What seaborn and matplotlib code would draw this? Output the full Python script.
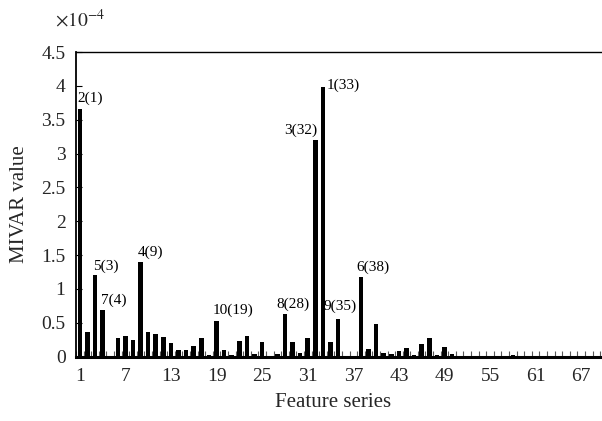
import numpy as np
import pandas as pd
import matplotlib
matplotlib.use("Agg")
import matplotlib.pyplot as plt
import seaborn as sns

# ---- data (values in units of 1e-4) ----
series = list(range(1, 70))
mivar = [3.66, 0.355, 1.20, 0.69, 0.01, 0.28, 0.30, 0.24, 1.39, 0.355,
         0.33, 0.285, 0.20, 0.10, 0.09, 0.15, 0.27, 0.015, 0.53, 0.10,
         0.015, 0.23, 0.305, 0.03, 0.22, 0.01, 0.03, 0.635, 0.22, 0.05,
         0.275, 3.20, 3.98, 0.21, 0.56, 0.0, 0.01, 1.17, 0.11, 0.48,
         0.05, 0.03, 0.08, 0.12, 0.02, 0.18, 0.28, 0.02, 0.14, 0.035,
         0.0, 0.0, 0.0, 0.0, 0.0, 0.0, 0.0, 0.02, 0.0, 0.0,
         0.0, 0.0, 0.0, 0.0, 0.0, 0.0, 0.0, 0.0, 0.0]
ann_labels = ["2(1)", "5(3)", "7(4)", "4(9)", "10(19)", "8(28)", "3(32)", "1(33)", "9(35)", "6(38)"]
ann_series = [1, 3, 4, 9, 19, 28, 32, 33, 35, 38]
xtick_series = list(range(1, 70, 6))
ytick_vals = [0, 0.5, 1, 1.5, 2, 2.5, 3, 3.5, 4, 4.5]
ytick_text = ["0", "0.5", "1", "1.5", "2", "2.5", "3", "3.5", "4", "4.5"]

# label offsets (pixels) relative to bar top-centre
ann_offsets = {1: (10.5, 11), 3: (10.5, 9.5), 4: (11.5, 9.5), 9: (10, 10),
               19: (16, 10.5), 28: (8.5, 9.5), 32: (-15, 10), 33: (20.5, 2),
               35: (2, 12.5), 38: (12, 10)}

sns.set_theme(style="white")
plt.rcParams['font.family'] = ['Liberation Serif', 'DejaVu Serif']
plt.rcParams['mathtext.fontset'] = 'stix'

df = pd.DataFrame({"series": [str(s) for s in series], "value": mivar})

fig = plt.figure(figsize=(6.02, 4.21), dpi=100)
ax = fig.add_axes([76/602, 1-356.5/421, (601-76)/602, (356.5-52)/421])

sns.barplot(data=df, x="series", y="value", color="black", width=0.6,
            saturation=1, ax=ax, order=[str(s) for s in series])
for p in ax.patches:
    p.set_edgecolor("none")

ax.set_xlim(-0.5, 68.6)
ax.set_ylim(0, 4.5)

ax.set_xticks([s - 1 for s in xtick_series])
ax.set_xticklabels([str(s) for s in xtick_series], fontsize=14)
ax.set_xticks(np.arange(-0.5, 69, 1), minor=True)
ax.tick_params(axis='x', which='major', length=0, pad=8)
ax.tick_params(axis='x', which='minor', direction='in', length=4, width=0.8,
               color='0.35', bottom=True)

ax.set_yticks(ytick_vals)
ax.set_yticklabels(ytick_text, fontsize=14)
ax.tick_params(axis='y', which='major', direction='in', length=4, width=0.8,
               color='black', left=True, pad=7.5)

ax.spines['right'].set_visible(False)
ax.spines['bottom'].set_linewidth(2.2)
ax.spines['left'].set_linewidth(1.3)
ax.spines['top'].set_linewidth(1.0)
for s in ['bottom', 'left', 'top']:
    ax.spines[s].set_color('black')

ax.set_xlabel("Feature series", fontsize=15)
ax.xaxis.set_label_coords(0.49, -0.12)
ax.set_ylabel("MIVAR value", fontsize=15, labelpad=9)

for lab, s in zip(ann_labels, ann_series):
    dx, dy = ann_offsets[s]
    ax.annotate(lab, xy=(s - 1, mivar[s - 1]), xytext=(dx, dy),
                textcoords='offset pixels', ha='center', va='center',
                fontsize=11, color='black')

fig.text(80/602, 1-20/421, r"$\times10^{-4}$", fontsize=14, ha='center', va='center')

fig.savefig("out.png", dpi=100)
